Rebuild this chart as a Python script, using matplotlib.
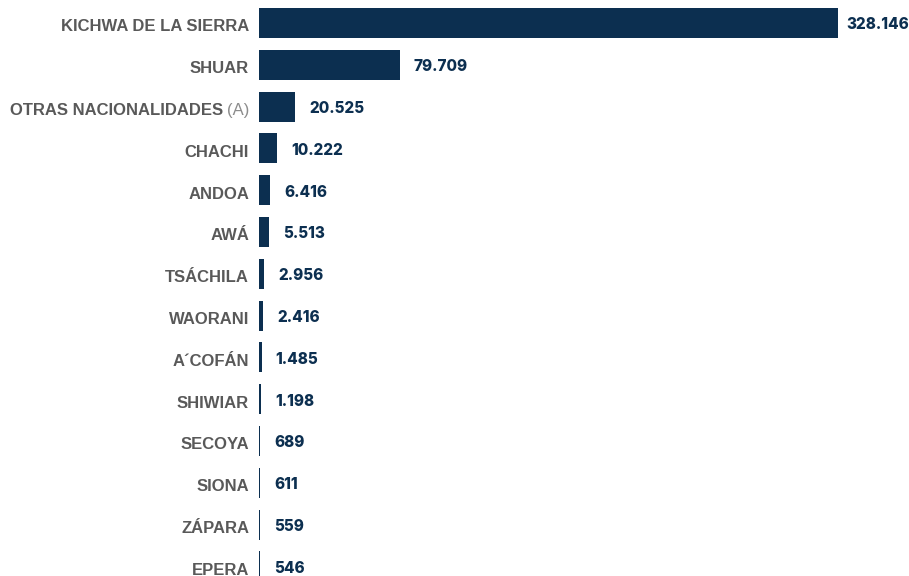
import matplotlib
matplotlib.use("Agg")
import matplotlib.pyplot as plt

names = ["KICHWA DE LA SIERRA", "SHUAR", "OTRAS NACIONALIDADES", "CHACHI", "ANDOA", "AWÁ",
         "TSÁCHILA", "WAORANI", "A´COFÁN", "SHIWIAR", "SECOYA", "SIONA", "ZÁPARA", "EPERA"]
suffix = {"OTRAS NACIONALIDADES": "(A)"}
values = [328146, 79709, 20525, 10222, 6416, 5513, 2956, 2416, 1485, 1198, 689, 611, 559, 546]

navy = "#0c2f50"
gray = "#595959"

fig = plt.figure(figsize=(9.09, 5.76), dpi=100)
ax = fig.add_axes([259 / 909, 0, 579 / 909, 1])
pos = list(range(len(names)))
ax.barh(pos, values, height=0.72, color=navy)
ax.set_xlim(0, 328146)
ax.set_ylim(13.23, -0.55)
ax.axis("off")


def fmt(v):
    return f"{v:,}".replace(",", ".")


for i, v in enumerate(values):
    # the biggest bar sits close to the edge, so its label hugs it
    dx = 8 if v == max(values) else 14
    ax.annotate(fmt(v), (v, i), xytext=(dx, -2), textcoords="offset pixels",
                ha="left", va="center", color=navy, fontsize=11,
                fontweight=800, family="Inter", clip_on=False)

fig.canvas.draw()
r = fig.canvas.get_renderer()
for i, n in enumerate(names):
    off = -10
    if n in suffix:
        t = ax.annotate(suffix[n], (0, i), xytext=(off, -4), textcoords="offset pixels",
                        ha="right", va="center", color="#8c8c8c", fontsize=12,
                        family="Liberation Sans")
        off -= t.get_window_extent(r).width + 4
    ax.annotate(n, (0, i), xytext=(off, -4), textcoords="offset pixels",
                ha="right", va="center", color=gray, fontsize=12,
                fontweight="bold", family="Liberation Sans")

fig.savefig("out.png", dpi=100)
